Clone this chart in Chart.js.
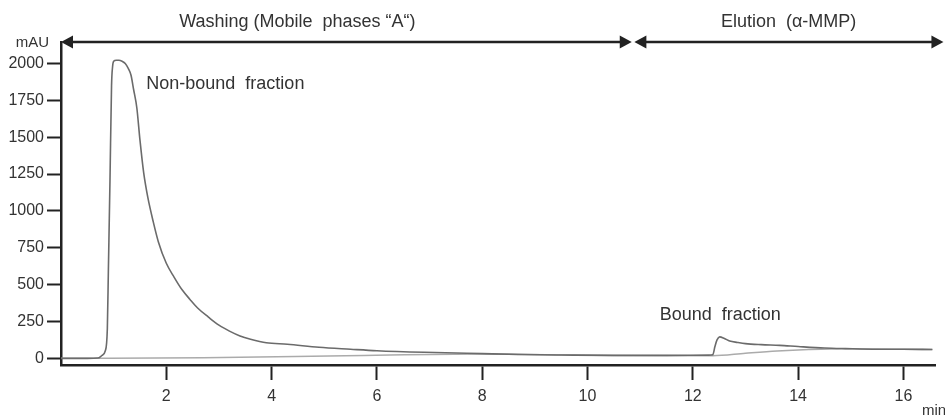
<!DOCTYPE html>
<html>
<head>
<meta charset="utf-8">
<script src="https://cdn.jsdelivr.net/npm/chart.js@4"></script>
<style>
  html, body { margin: 0; padding: 0; background: #fff; }
  #wrap { width: 945px; height: 419px; }
</style>
</head>
<body>
<div id="wrap"><canvas id="canvasCromatograma"></canvas></div>
<script>
// chromatogram trace (min, mAU)
var traceTimes = [0, 0.5, 0.7, 0.78, 0.84, 0.88, 0.9, 0.93, 0.96, 0.98, 1.0, 1.05, 1.1, 1.16, 1.22, 1.28, 1.33, 1.38, 1.44, 1.5,
    1.57, 1.65, 1.75, 1.85, 2.0, 2.15, 2.3, 2.45, 2.6, 2.8, 3.0, 3.2, 3.4, 3.6, 3.9, 4.3, 4.9, 5.5, 6.0, 6.9,
    8.0, 8.8, 9.5, 10.5, 11.5, 12.3, 12.38, 12.42, 12.46, 12.51, 12.6, 12.7, 12.85, 13.0, 13.3, 13.65, 14.0, 14.5, 14.9, 15.5,
    16.0, 16.55];
var traceValues = [0, 0, 2, 20, 50, 200, 600, 1200, 1850, 1980, 2015, 2022, 2022, 2015, 2000, 1965, 1920, 1822, 1700, 1480,
    1260, 1090, 930, 790, 645, 550, 465, 400, 340, 280, 225, 185, 152, 130, 106, 96, 75, 62, 52, 41,
    32, 26, 23, 20, 20, 22, 25, 80, 125, 146, 135, 118, 108, 100, 93, 88, 80, 70, 66, 62,
    62, 60];

// baseline (lighter line)
var baselineTimes = [0, 2.7, 5.4, 8.0, 8.8, 10.5, 12.38, 13.0, 13.6, 14.2, 14.9, 16.55];
var baselineValues = [0, 5, 18, 30, 26, 20, 18, 35, 50, 60, 66, 60];

var xTicks = [2, 4, 6, 8, 10, 12, 14, 16];
var yTicks = [0, 250, 500, 750, 1000, 1250, 1500, 1750, 2000];

var fuente = '"Liberation Sans", Arial, sans-serif';
var colorEje = '#222';
var colorTexto = '#333';

function puntos(xs, ys) {
    return xs.map(function (x, i) { return { x: x, y: ys[i] }; });
}

// arrows at the top and free text labels
var flechas = [
    { desde: 0, hasta: 10.84 },
    { desde: 10.89, hasta: 16.76 }
];
var textos = [
    { texto: 'Washing (Mobile  phases \u201CA\u201C)', x: 4.49, dy: -20, align: 'center' },
    { texto: 'Elution  (\u03B1-MMP)', x: 13.82, dy: -20, align: 'center' },
    { texto: 'Non-bound  fraction', x: 1.62, y: 1860, align: 'left' },
    { texto: 'Bound  fraction', x: 11.37, y: 294, align: 'left' }
];

function punta(ctx, x, y, dir) {
    ctx.beginPath();
    ctx.moveTo(x, y);
    ctx.lineTo(x - dir * 12, y - 6.5);
    ctx.lineTo(x - dir * 12, y + 6.5);
    ctx.closePath();
    ctx.fill();
}

var anotaciones = {
    id: 'anotaciones',
    afterDraw: function (chart) {
        var ctx = chart.ctx;
        var xs = chart.scales.x, ys = chart.scales.y;
        var area = chart.chartArea;
        ctx.save();
        ctx.strokeStyle = colorEje;
        ctx.fillStyle = colorEje;
        ctx.lineWidth = 2.5;
        flechas.forEach(function (f) {
            var x1 = xs.getPixelForValue(f.desde), x2 = xs.getPixelForValue(f.hasta);
            var y = area.top;
            ctx.beginPath();
            ctx.moveTo(x1 + 6, y);
            ctx.lineTo(x2 - 6, y);
            ctx.stroke();
            punta(ctx, x1, y, -1);
            punta(ctx, x2, y, 1);
        });

        ctx.fillStyle = colorTexto;
        ctx.font = '18px ' + fuente;
        ctx.textBaseline = 'middle';
        textos.forEach(function (t) {
            var px = xs.getPixelForValue(t.x);
            var py = t.y !== undefined ? ys.getPixelForValue(t.y) : area.top + t.dy;
            ctx.textAlign = t.align;
            ctx.fillText(t.texto, px, py);
        });

        // axis units
        ctx.font = '15px ' + fuente;
        ctx.textAlign = 'right';
        ctx.fillText('mAU', area.left - 12, area.top + 1);
        ctx.textAlign = 'center';
        ctx.fillText('min', area.right - 1, chart.height - 8);
        ctx.restore();
    }
};

var ctx = document.getElementById('canvasCromatograma').getContext('2d');
window.myChart = new Chart(ctx, {
    type: 'line',
    data: {
        datasets: [{
            label: 'Trace',
            data: puntos(traceTimes, traceValues),
            borderColor: '#6b6b6b',
            borderWidth: 1.6,
            pointRadius: 0,
            cubicInterpolationMode: 'monotone',
            order: 1
        }, {
            label: 'Baseline',
            data: puntos(baselineTimes, baselineValues),
            borderColor: '#ababab',
            borderWidth: 1.5,
            pointRadius: 0,
            cubicInterpolationMode: 'monotone',
            order: 2
        }]
    },
    options: {
        responsive: true,
        maintainAspectRatio: false,
        animation: false,
        layout: { padding: { top: 42, right: 10, left: 0, bottom: 0 } },
        plugins: {
            legend: { display: false },
            tooltip: { enabled: false }
        },
        scales: {
            x: {
                type: 'linear',
                min: 0,
                max: 16.6,
                afterBuildTicks: function (axis) {
                    axis.ticks = xTicks.map(function (v) { return { value: v }; });
                },
                afterFit: function (axis) { axis.height = 54; },
                border: { display: true, color: colorEje, width: 2.5 },
                grid: { drawOnChartArea: false, tickLength: 15, tickWidth: 2, tickColor: colorEje },
                ticks: {
                    color: colorTexto, padding: 7, maxRotation: 0,
                    font: { family: fuente, size: 16 },
                    callback: function (v) { return String(v); }
                }
            },
            y: {
                min: -45,
                max: 2146,
                afterBuildTicks: function (axis) {
                    axis.ticks = yTicks.map(function (v) { return { value: v }; });
                },
                afterFit: function (axis) { axis.width = 61; },
                border: { display: true, color: colorEje, width: 2.5 },
                grid: { drawOnChartArea: false, tickLength: 14, tickWidth: 2, tickColor: colorEje },
                ticks: {
                    color: colorTexto, padding: 3,
                    font: { family: fuente, size: 16 },
                    callback: function (v) { return String(v); }
                }
            }
        }
    },
    plugins: [anotaciones]
});
</script>
</body>
</html>
